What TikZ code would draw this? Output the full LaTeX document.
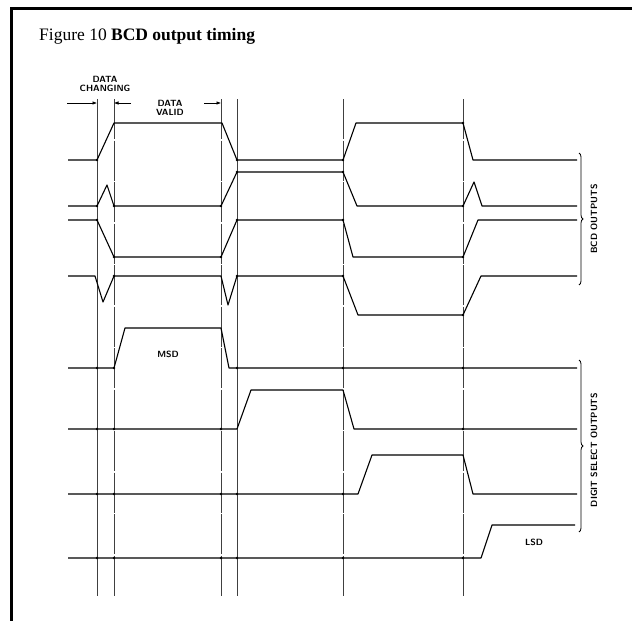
\documentclass[tikz,border=0pt]{standalone}
\usepackage{fontspec}
\newfontfamily\titlefont{Liberation Serif}
\usepackage{tikz}
\usetikzlibrary{arrows.meta}
\usetikzlibrary{decorations.pathreplacing}

\begin{document}
\begin{tikzpicture}[x=1pt,y=-1pt,
        sig/.style={line width=1.1pt, line join=round},
        gridline/.style={line width=0.5pt, black!75},
        broken/.style={gridline, dash pattern=on 40pt off 1.5pt},
        dimarrow/.style={line width=0.6pt, -{Latex[length=4.5pt,width=3.5pt]}},
        lbl/.style={font=\sffamily\bfseries\fontsize{9}{9.5}\selectfont\addfontfeatures{LetterSpace=12},
            inner sep=0pt, align=center},
        grp/.style={decorate, decoration={brace, amplitude=4pt}, line width=0.8pt}]
        \useasboundingbox (0,0) rectangle (632,621);
        \draw[line width=3pt] (632,8) -- (11,8) -- (11,621);
        \node[anchor=base west, inner sep=0pt, font=\titlefont\fontsize{17.5}{20}\selectfont] (title) at (39,40)
            {Figure 10 \textbf{BCD output timing}};
        \foreach \t in {97,237}
            \draw[gridline] (\t,99) -- (\t,596);
        \foreach \t in {114,221,343,463}
            \draw[broken] (\t,99) -- (\t,596);
        \node[lbl] (chg) at (105,84) {DATA\\CHANGING};
        \node[lbl] (vld) at (170,108) {DATA\\VALID};
        \draw[dimarrow] (67,103) -- (97,103);
        \draw[dimarrow] (131,103) -- (114,103);
        \draw[dimarrow] (204,103) -- (221,103);
        \draw[sig] (68,160) -- (97,160) -- (114,123) -- (222,123) -- (237,160) -- (343,160) -- (356,123) -- (463,123) -- (473,160) -- (577,160);
        \draw[sig] (68,206) -- (97,206) -- (107,185) -- (114,206) -- (221,206) -- (237,172) -- (343,172) -- (357,206) -- (463,206) -- (474,182) -- (482,206) -- (577,206);
        \draw[sig] (68,220) -- (97,220) -- (114,257) -- (221,257) -- (237,220) -- (343,220) -- (353,257) -- (463,257) -- (478,220) -- (577,220);
        \draw[sig] (68,276) -- (95,276) -- (103,302) -- (114,276) -- (221,276) -- (228,305) -- (237,276) -- (343,276) -- (358,315) -- (463,315) -- (481,276) -- (577,276);
        \draw[sig] (68,368) -- (114,368) -- (125,328) -- (221,328) -- (229,368) -- (577,368);
        \draw[sig] (68,429) -- (237,429) -- (251,390) -- (343,390) -- (354,429) -- (577,429);
        \draw[sig] (68,494) -- (358,494) -- (372,455) -- (463,455) -- (473,494) -- (577,494);
        \draw[sig] (68,558) -- (481,558) -- (492,525) -- (575,525);
        \foreach \p in {(97,160),(237,160),(343,160),(463,123),(97,206),(114,206),(221,206),(237,172),(343,172),(463,206),
                (97,220),(114,257),(221,257),(237,220),(343,220),(463,257),(114,276),(237,276),(343,276),(463,315),
                (97,368),(114,368),(237,368),(343,368),(463,368),(97,429),(114,429),(221,429),(463,429),
                (97,494),(114,494),(221,494),(237,494),(343,494),(97,558),(114,558),(221,558),(237,558),(343,558),(463,558)}
            \fill \p circle (1.4);
        \node[lbl] (msd) at (168,354) {MSD};
        \node[lbl] (lsd) at (534,542) {LSD};
        \draw[grp] (579,153) -- (579,285);
        \node[lbl, rotate=90] (bcd) at (594,219) {BCD OUTPUTS};
        \draw[grp] (579,360) -- (579,532);
        \node[lbl, rotate=90] (dsel) at (594,450) {DIGIT SELECT OUTPUTS};
\end{tikzpicture}
\end{document}
